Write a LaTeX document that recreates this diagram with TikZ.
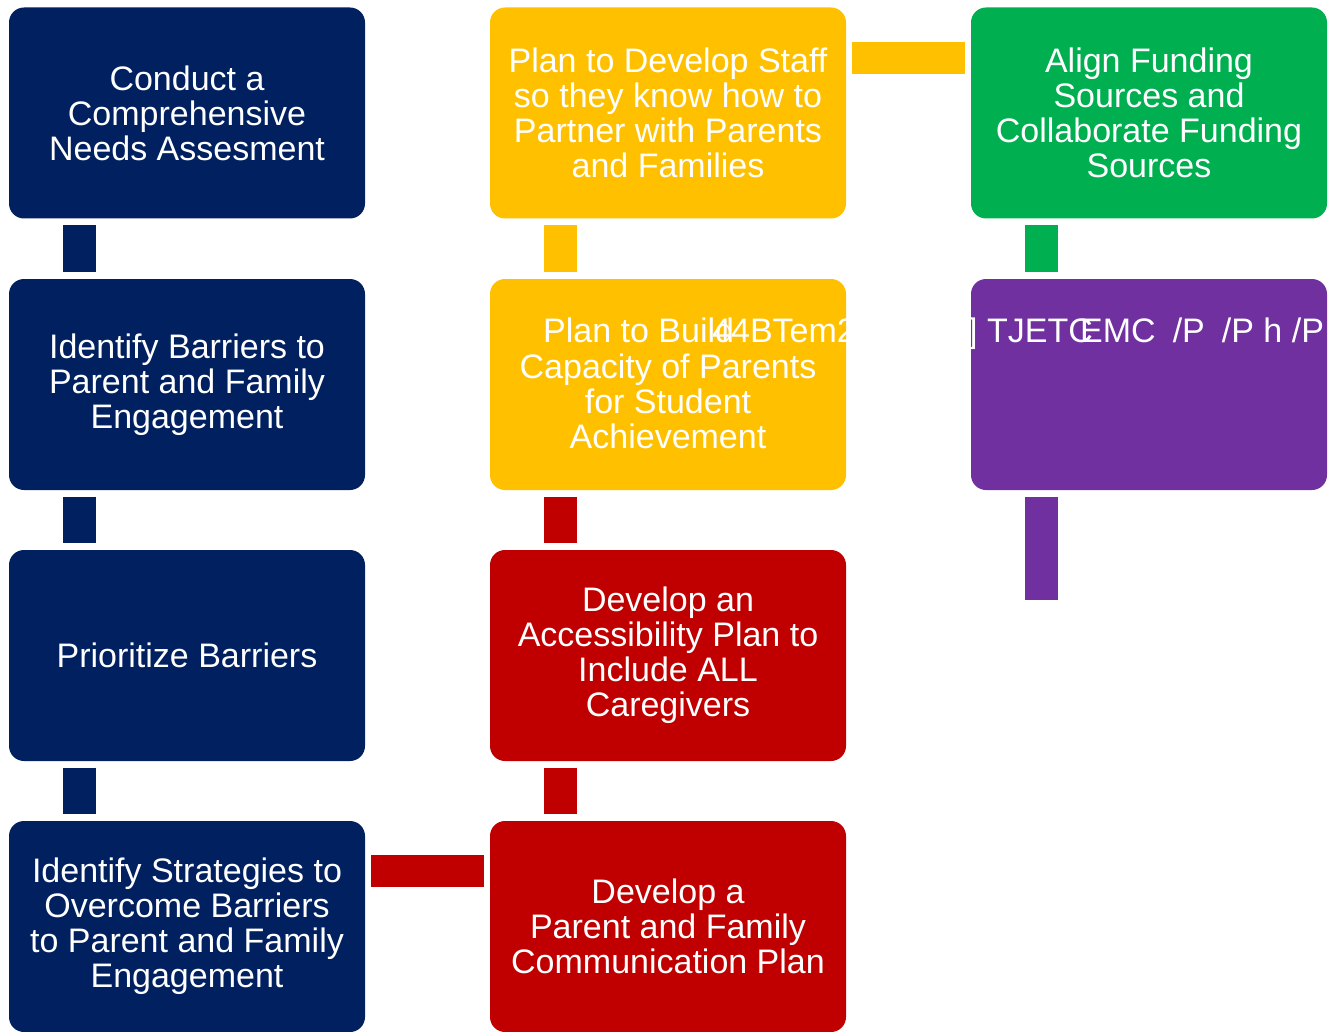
\documentclass[tikz,border=0pt]{standalone}
\usepackage{fontspec}
\setmainfont{Liberation Sans}
\definecolor{navyc}{HTML}{002060}
\definecolor{yellowc}{HTML}{FFC000}
\definecolor{greenc}{HTML}{00B050}
\definecolor{purplec}{HTML}{7030A0}
\definecolor{redc}{HTML}{C00000}
\begin{document}
\begin{tikzpicture}[x=1pt,y=-1pt,
  box/.style={rectangle, rounded corners=15pt, minimum width=356pt, minimum height=211pt,
    inner sep=0pt, text=white, align=center, font=\fontsize{34}{35}\selectfont},
  txt/.style={inner sep=0pt, text=white, align=center, font=\fontsize{34}{35}\selectfont},
  vbar/.style={line width=33pt, shorten <=6.5pt, shorten >=6.5pt},
  hbar/.style={line width=32pt, shorten <=6pt, shorten >=6pt},
  stray/.style={anchor=base west, inner sep=0pt, text=white, font=\fontsize{34}{35}\selectfont}]
\useasboundingbox (0,0) rectangle (1340,1032);
% column 1
\node[box, fill=navyc] (a1) at (187,113) {Conduct a\\Comprehensive\\Needs Assesment};
\node[box, fill=navyc] (a2) at (187,384.5) {Identify Barriers to\\Parent and Family\\Engagement};
\node[box, fill=navyc] (a3) at (187,655.5) {Prioritize Barriers};
\node[box, fill=navyc] (a4) at (187,926.5) {Identify Strategies to\\Overcome Barriers\\to Parent and Family\\Engagement};
% column 2
\node[box, fill=yellowc] (b1) at (668,113) {Plan to Develop Staff\\so they know how to\\Partner with Parents\\and Families};
\node[box, fill=yellowc] (b2) at (668,384.5) {};
\node[txt] (b2t) at (668,401) {Capacity of Parents\\for Student\\Achievement};
\node[box, fill=redc] (b3) at (668,655.5) {Develop an\\Accessibility Plan to\\Include ALL\\Caregivers};
\node[box, fill=redc] (b4) at (668,926.5) {Develop a\\Parent and Family\\Communication Plan};
% column 3
\node[box, fill=greenc] (c1) at (1149,113) {Align Funding\\Sources and\\Collaborate Funding\\Sources};
\node[box, fill=purplec] (c2) at (1149,384.5) {};
% stray text as printed
\node[stray] (s1) at (543,342) {Plan to Build};
\node[stray] (s2) at (712,342) {44BTem2(};
\node[stray] (s3) at (968,342) {] TJETC};
\node[stray] (s4) at (1080,342) {EMC\enspace/P\enspace/P h /P};
% connectors
\draw[vbar, navyc] ([xshift=-107.5pt]a1.south) -- ([xshift=-107.5pt]a2.north);
\draw[vbar, navyc] ([xshift=-107.5pt]a2.south) -- ([xshift=-107.5pt]a3.north);
\draw[vbar, navyc] ([xshift=-107.5pt]a3.south) -- ([xshift=-107.5pt]a4.north);
\draw[vbar, yellowc] ([xshift=-107.5pt]b1.south) -- ([xshift=-107.5pt]b2.north);
\draw[vbar, redc] ([xshift=-107.5pt]b2.south) -- ([xshift=-107.5pt]b3.north);
\draw[vbar, redc] ([xshift=-107.5pt]b3.south) -- ([xshift=-107.5pt]b4.north);
\draw[vbar, greenc] ([xshift=-107.5pt]c1.south) -- ([xshift=-107.5pt]c2.north);
\coordinate (pend) at (1041.5,600);
\draw[line width=33pt, shorten <=6.5pt, purplec] ([xshift=-107.5pt]c2.south) -- (pend);
\draw[hbar, yellowc] ([yshift=55pt]b1.east) -- ([yshift=55pt]c1.west);
\draw[hbar, redc] ([yshift=55.5pt]a4.east) -- ([yshift=55.5pt]b4.west);
\end{tikzpicture}
\end{document}
